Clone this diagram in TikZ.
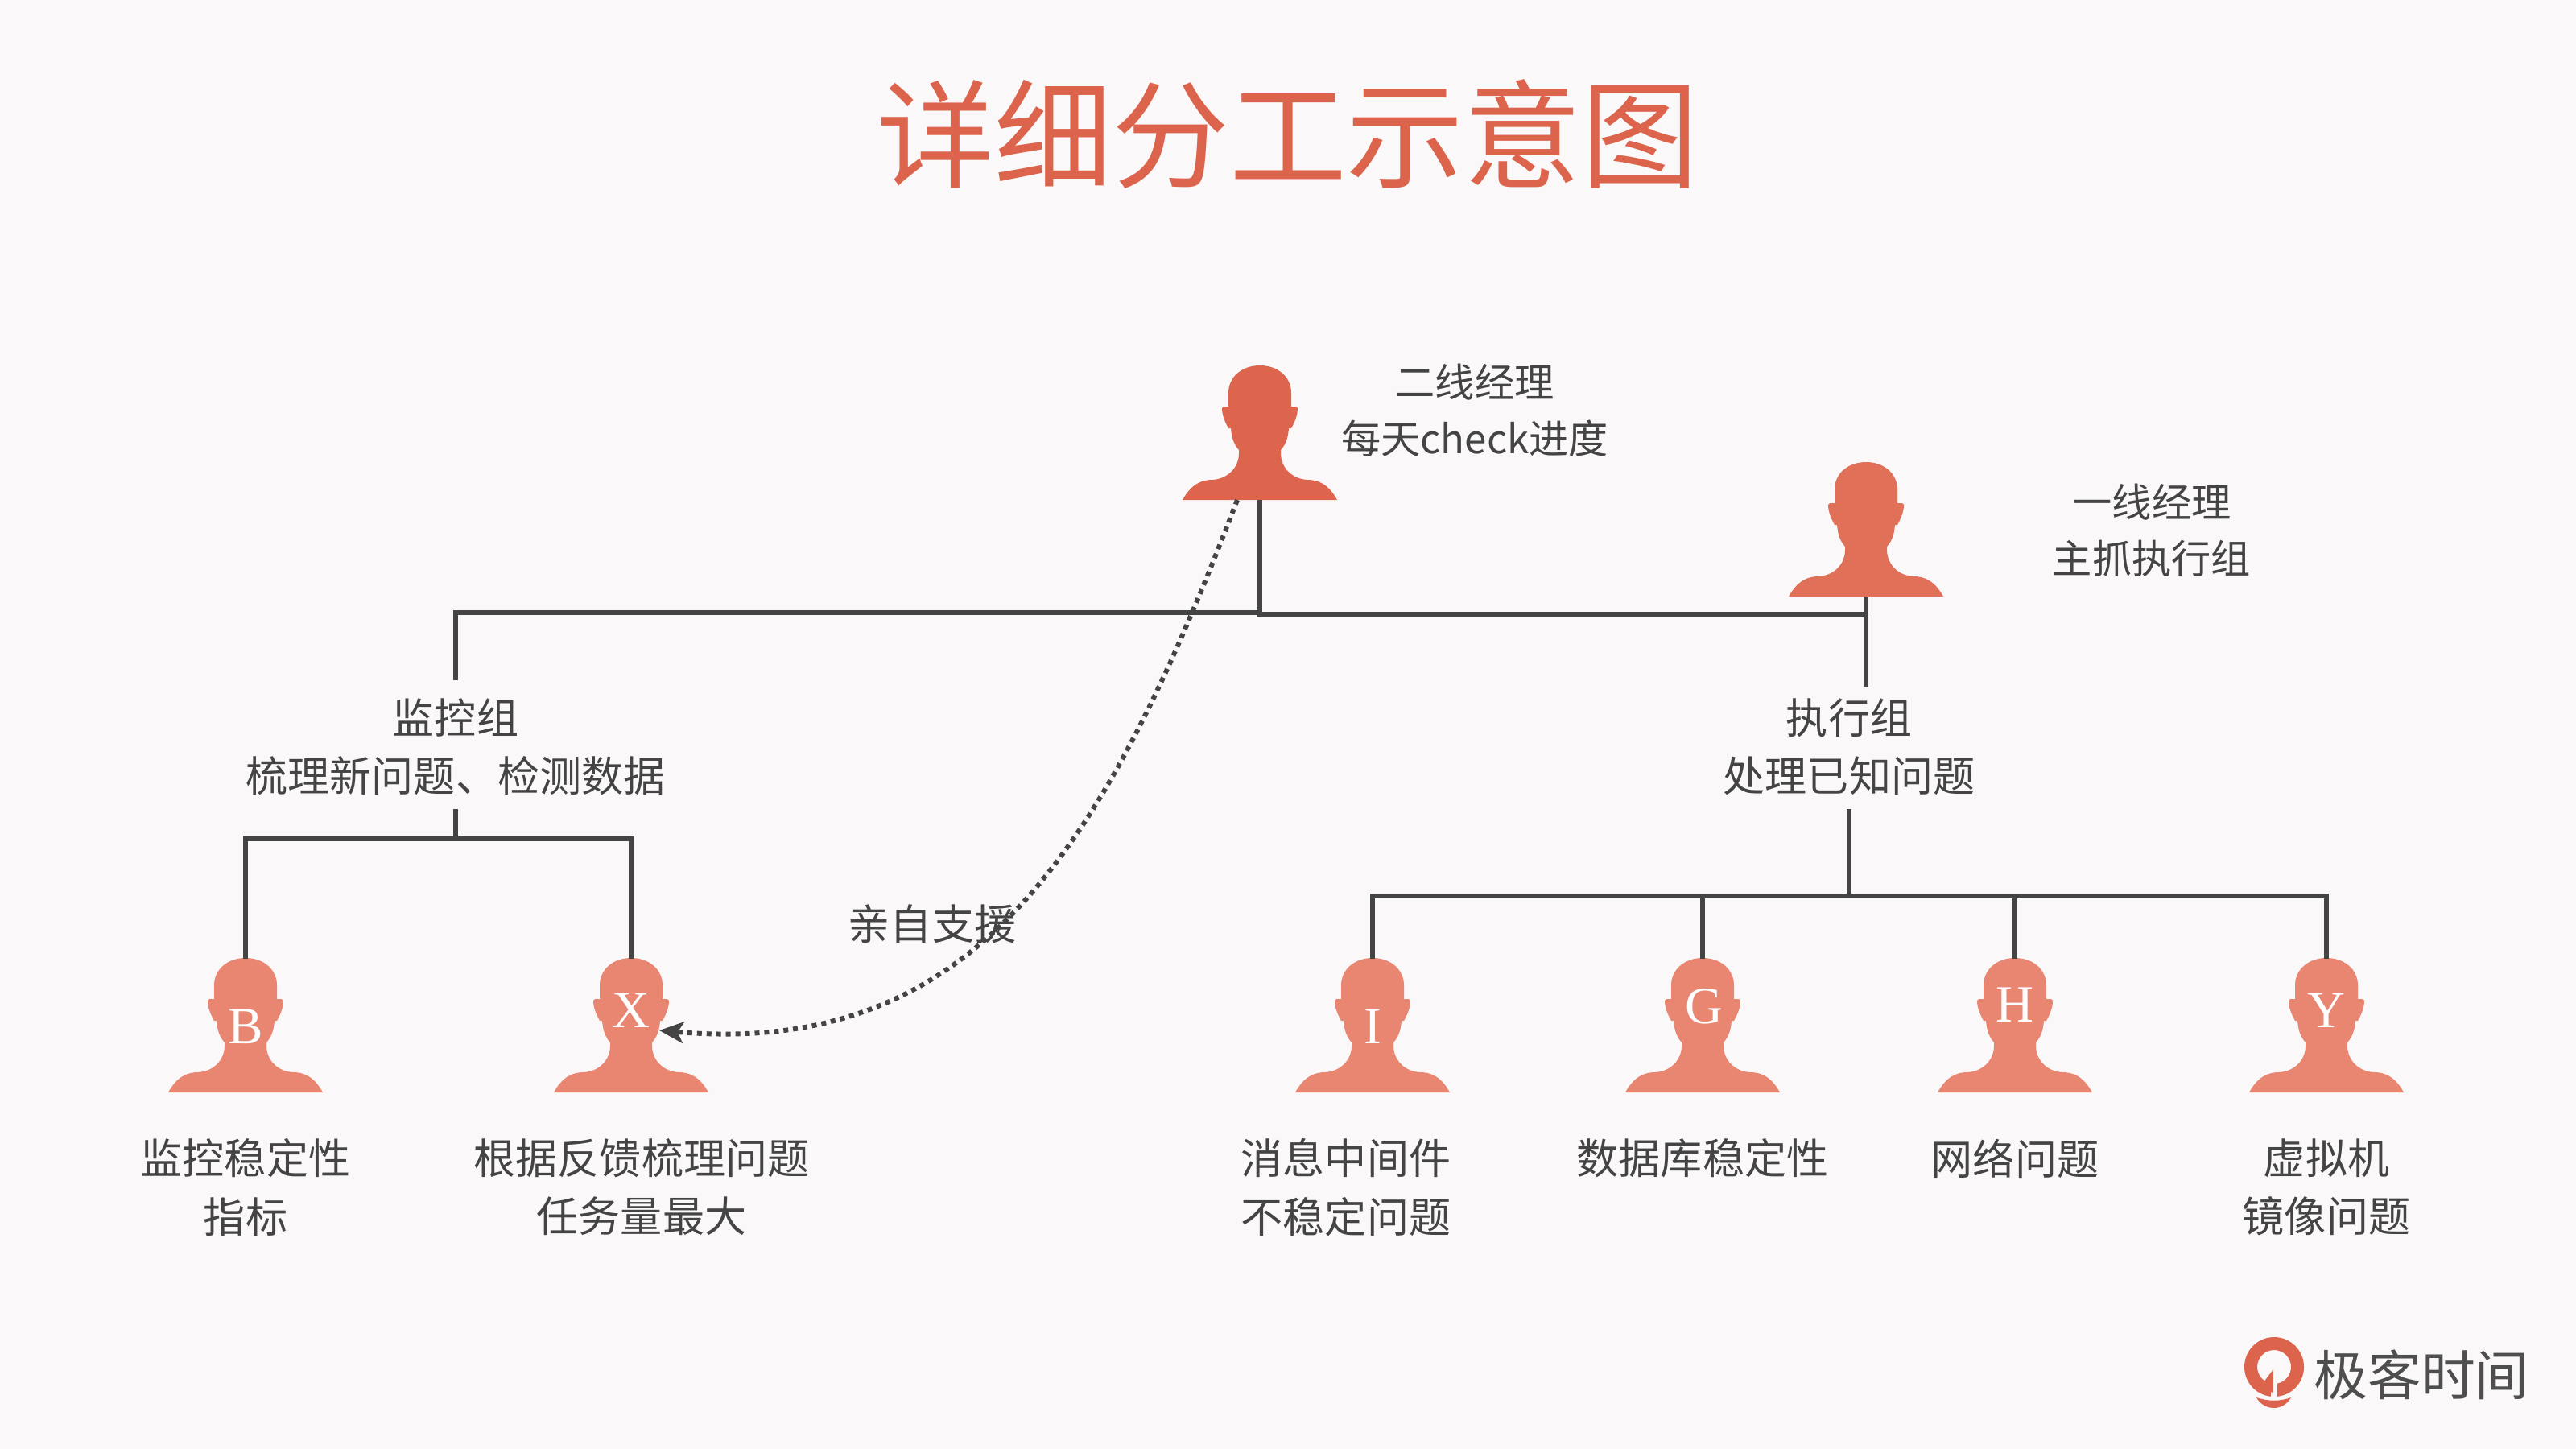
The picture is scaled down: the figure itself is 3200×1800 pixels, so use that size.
\documentclass[tikz,border=0pt]{standalone}
\usepackage{fontspec}
\setmainfont{Noto Sans CJK SC}
\newfontfamily\letterfont{Liberation Serif}
\usetikzlibrary{arrows.meta,positioning,calc}
\definecolor{bgpage}{HTML}{FAF8F9}
\definecolor{redtitle}{HTML}{DD644C}
\definecolor{redtwo}{HTML}{DD654E}
\definecolor{redone}{HTML}{E07058}
\definecolor{redteam}{HTML}{E88672}
\definecolor{darkline}{HTML}{444444}
\definecolor{logogray}{HTML}{4E4E4E}
\tikzset{
  pics/person/.style={code={
    \fill[#1] (-96,0) .. controls (-85,-20) and (-72,-25) .. (-59,-25)
      .. controls (-40,-26) and (-26,-40) .. (-26,-58) -- (-26,-62)
      .. controls (-33,-70) and (-35,-78) .. (-36,-89) -- (-39,-89)
      .. controls (-44,-98) and (-47,-106) .. (-47,-114)
      .. controls (-46,-116) .. (-39,-116) -- (-39,-133)
      .. controls (-39,-153) and (-22,-167) .. (0,-167)
      .. controls (22,-167) and (39,-153) .. (39,-133) -- (39,-116)
      .. controls (46,-116) .. (47,-114)
      .. controls (47,-106) and (44,-98) .. (39,-89) -- (36,-89)
      .. controls (35,-78) and (33,-70) .. (26,-62) -- (26,-58)
      .. controls (26,-40) and (40,-26) .. (59,-25)
      .. controls (72,-25) and (85,-20) .. (96,0) -- cycle;
    \coordinate (-base) at (0,0);
    \coordinate (-top) at (0,-166);
  }},
  link/.style={darkline,line width=1.8pt},
  txt/.style={font=\fontsize{14.8}{20.5}\selectfont,text=darkline,align=center,inner sep=0pt},
  boss/.style={txt,font=\fontsize{14}{20}\selectfont},
  letter/.style={font=\letterfont\fontsize{18.5}{20}\selectfont,text=white,inner sep=0pt}
}
\begin{document}
\begin{tikzpicture}[x=0.01cm,y=-0.01cm]
\useasboundingbox[fill=bgpage] (0,0) rectangle (3200,1800);
\node[font=\fontsize{41.5}{44}\selectfont,text=redtitle,inner sep=0pt] (title) at (1600,167) {详细分工示意图};
% managers
\pic (two) at (1565,621) {person=redtwo};
\pic (one) at (2318,741) {person=redone};
\node[boss] (twotxt) at (1832,510) {二线经理\\每天check进度};
\node[boss] (onetxt) at (2673,659) {一线经理\\主抓执行组};
% groups
\node[txt] (mon) at (566,928) {监控组\\梳理新问题、检测数据};
\node[txt] (exec) at (2297,928) {执行组\\处理已知问题};
% team
\pic (b) at (305,1357) {person=redteam};
\pic (x) at (784,1357) {person=redteam};
\pic (i) at (1705,1357) {person=redteam};
\pic (g) at (2115,1357) {person=redteam};
\pic (h) at (2503,1357) {person=redteam};
\pic (y) at (2890,1357) {person=redteam};
\node[letter] (bname) at (305,1275) {B};
\node[letter] (xname) at (784,1255) {X};
\node[letter] (iname) at (1705,1275) {I};
\node[letter] (gname) at (2117,1250) {G};
\node[letter] (hname) at (2503,1248) {H};
\node[letter] (yname) at (2890,1255) {Y};
\node[txt] (btxt) at (305,1475) {监控稳定性\\指标};
\node[txt] (xtxt) at (797,1475) {根据反馈梳理问题\\任务量最大};
\node[txt] (itxt) at (1672,1475) {消息中间件\\不稳定问题};
\node[txt] (gtxt) at (2115,1439) {数据库稳定性};
\node[txt] (htxt) at (2503,1439) {网络问题};
\node[txt] (ytxt) at (2890,1475) {虚拟机\\镜像问题};
% lines
\coordinate (lbus) at (1565,761);
\coordinate (rbus) at (1565,763);
\coordinate (rjoin) at (2318,763);
\coordinate (rgap) at (2318,767);
\coordinate (rend) at (2318,853);
\coordinate (monin) at (566,845);
\coordinate (monout) at (566,1005);
\coordinate (execout) at (2297,1005);
\coordinate (monbus) at (566,1042);
\coordinate (execbus) at (2297,1113);
\draw[link] (two-base) -- (rbus) -- (rjoin) -- (one-base);
\draw[link] (lbus) -| (monin);
\draw[link] (rgap) -- (rend);
\draw[link] (monout) -- (monbus);
\draw[link] (b-top) |- (x-top |- monbus) -- (x-top);
\draw[link] (execout) -- (execbus);
\draw[link] (i-top) |- (y-top |- execbus) -- (y-top);
\draw[link] (g-top) -- (g-top |- execbus);
\draw[link] (h-top) -- (h-top |- execbus);
% support
\coordinate (helpstart) at (1537,621);
\coordinate (helpend) at (819,1280);
\draw[darkline,line width=1.7pt,dash pattern=on 1.7pt off 1.7pt,-{Stealth[length=8.5pt,width=7.5pt,inset=2pt]}] (helpstart) .. controls (1376,1041) and (1220,1315) .. (helpend);
\node[txt] (helptxt) at (1158,1148) {亲自支援};
% logo
\fill[redtitle,even odd rule] (2825,1698) circle (37) (2825,1698) circle (21);
\fill[bgpage] (2821,1698) rectangle (2829,1740);
\fill[redtitle] (2812,1717) -- (2824,1701) -- (2824,1730) -- (2800,1722) -- (2804,1712) -- cycle;
\fill[redtitle] (2803,1736) .. controls (2818,1741) and (2832,1741) .. (2846,1736) .. controls (2841,1745) and (2832,1749) .. (2825,1749) .. controls (2817,1749) and (2808,1745) .. (2803,1736) -- cycle;
\node[font=\fontsize{19}{20}\selectfont,text=logogray,inner sep=0pt] (logotxt) at (3008,1708) {极客时间};
\end{tikzpicture}
\end{document}
